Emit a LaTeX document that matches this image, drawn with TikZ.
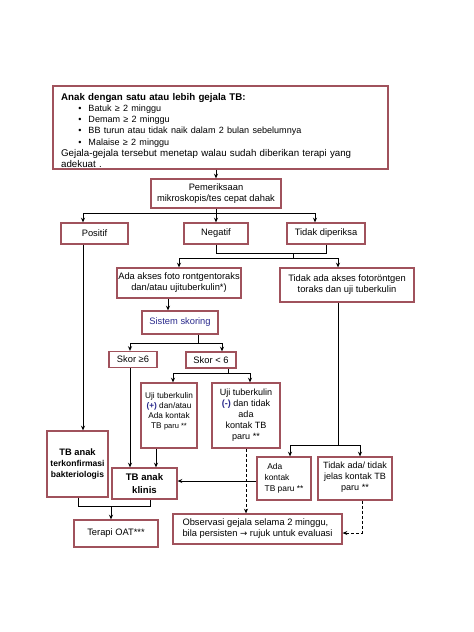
\documentclass[tikz,border=0pt]{standalone}
\usepackage{fontspec}
\setmainfont{Liberation Sans}
\newfontfamily\dejavu{DejaVu Sans}
\usetikzlibrary{arrows.meta,calc}
\definecolor{bordc}{RGB}{160,82,92}
\definecolor{navyc}{RGB}{40,40,140}
\begin{document}
\begin{tikzpicture}[x=0.75pt,y=-0.75pt,
  box/.style={draw=bordc, line width=0.9pt, align=center, inner sep=1pt,
    font=\fontsize{7}{8.3}\selectfont},
  wh/.style 2 args={minimum width=#1*0.75pt, minimum height=#2*0.75pt},
  con/.style={line width=0.7pt, black},
  arr/.style={con, -{Stealth[length=3.5pt,width=3pt]}},
  dsh/.style={dash pattern=on 2.2pt off 1.6pt}]
\path[use as bounding box, fill=white] (0,0) rectangle (474,632);

% top box
\node[box, wh={335}{83}, text width=239pt, inner xsep=6pt, align=left,
  font=\fontsize{7.3}{8.3}\selectfont] (top) at (220.5,127.5)
 {\rule{0pt}{9.8pt}\textbf{Anak dengan satu atau lebih gejala TB:}\\
  {\fontsize{6.8}{8.3}\selectfont
  \hspace*{13pt}\makebox[7.5pt][l]{\textbullet}Batuk ≥ 2 minggu\\
  \hspace*{13pt}\makebox[7.5pt][l]{\textbullet}Demam ≥ 2 minggu\\
  \hspace*{13pt}\makebox[7.5pt][l]{\textbullet}BB turun atau tidak naik dalam 2 bulan sebelumnya\\
  \hspace*{13pt}\makebox[7.5pt][l]{\textbullet}Malaise ≥ 2 minggu}\\
  Gejala-gejala tersebut menetap walau sudah diberikan terapi yang\\
  adekuat .};

\node[box, wh={130}{29}] (pem) at (216,193.5) {Pemeriksaan\\mikroskopis/tes cepat dahak};
\node[box, wh={67}{21}] (pos) at (94.5,233.5) {Positif};
\node[box, wh={64}{21}] (neg) at (216,233.5) {Negatif};
\node[box, wh={78}{21}] (tdk) at (326,233.5) {Tidak diperiksa};
\node[box, wh={118}{30}] (ada) at (179,283) {Ada akses foto rontgentoraks\\dan/atau ujituberkulin*)};
\node[box, wh={134}{34}] (tak) at (347,285) {Tidak ada akses fotoröntgen\\toraks dan uji tuberkulin};
\node[box, wh={76}{23}, text=navyc] (sis) at (180,322.5) {Sistem skoring};
\node[box, wh={48}{16}] (sk6) at (133,359.5) {Skor ≥6};
\node[box, wh={50}{16}] (sk5) at (211,360) {Skor < 6};
\node[box, wh={56}{65}, font=\fontsize{6.2}{7.6}\selectfont] (ujip) at (169,415.5)
  {Uji tuberkulin\\\textcolor{navyc}{\textbf{(+)}} dan/atau\\Ada kontak\\TB {\fontsize{5.6}{7}\selectfont paru **}\\\mbox{}};
\node[box, wh={68}{65}, font=\fontsize{6.8}{8.3}\selectfont] (ujim) at (246,415.5)
  {Uji tuberkulin\\\textcolor{navyc}{\textbf{(-)}} dan tidak\\ada\\kontak TB\\paru **};
\node[box, wh={61}{66}, font=\bfseries\fontsize{6.4}{8}\selectfont] (konf) at (77.5,464)
  {{\fontsize{7}{8}\selectfont TB anak}\\terkonfirmasi\\bakteriologis};
\node[box, wh={65}{31}, font=\bfseries\fontsize{7.2}{9.2}\selectfont] (kli) at (144.5,483.5) {TB anak\\klinis};
\node[box, wh={54}{43}, align=left, font=\fontsize{6.3}{8.3}\selectfont] (kon) at (284,478.5)
  {\hspace*{2pt}Ada\\kontak\\TB paru **};
\node[box, wh={74}{43}, font=\fontsize{6.8}{8.3}\selectfont] (tj) at (355,478.5)
  {Tidak ada/ tidak\\jelas kontak TB\\paru **\\[-5pt]\mbox{}};
\node[box, wh={84}{27}] (ter) at (116,533.5) {Terapi OAT***};
\node[box, wh={169}{30}, align=left] (obs) at (257.5,529)
  {Observasi gejala selama 2 minggu,\\bila persisten {\dejavu\fontsize{6.5}{8}\selectfont →} rujuk untuk evaluasi};

% connectors
\draw[arr] (top.south -| pem.north) -- (pem.north);
\coordinate (j1) at ($(pem.south)+(0,5)$);
\draw[arr] (j1) -| ($(pos.north)+(-11.5,0)$);
\draw[arr] (j1) -| ($(tdk.north)+(-11,0)$);
\draw[arr] (pem.south) -- (neg.north);

\coordinate (j2) at ($(neg.south)+(0,8.5)$);
\draw[con] (neg.south) -- (j2) -- (j2 -| tdk.south) -- (tdk.south);
\coordinate (m1) at ($(j2)+(77,0)$);
\coordinate (m2) at ($(m1)+(0,5.5)$);
\draw[con] (m1) -- (m2);
\draw[arr] (m2) -| (ada.north);
\draw[arr] (m2) -| ($(tak.north)+(-9,0)$);

\draw[arr] ($(ada.south)+(-11,0)$) -- ($(sis.north)+(-12,0)$);

\coordinate (s1) at ($(sis.south)+(18,9)$);
\draw[con] ($(sis.south)+(18,0)$) -- (s1);
\draw[arr] (s1) -| ($(sk6.north)+(-3,0)$);
\draw[arr] (s1) -| ($(sk5.north)+(11,0)$);

\coordinate (u1) at ($(sk5.south)+(17,5)$);
\draw[con] ($(sk5.south)+(17,0)$) -- (u1);
\draw[arr] (u1) -| ($(ujip.north)+(4,0)$);
\draw[arr] (u1) -| ($(ujim.north)+(4,0)$);

\draw[arr] ($(sk6.south)+(-3,0)$) -- ($(kli.north)+(-14.5,0)$);
\draw[arr] ($(ujip.south)+(-13,0)$) -- ($(kli.north)+(11.5,0)$);
\draw[arr] ($(pos.south)+(-11.5,0)$) -- ($(konf.north)+(5.5,0)$);

\coordinate (t1) at ($(konf.south)+(0.5,9)$);
\draw[con] ($(konf.south)+(0.5,0)$) -- (t1) -| ($(kli.south)+(5.5,0)$);
\coordinate (t2) at ($(ter.north)+(-5,0)$);
\draw[arr] (t1 -| t2) -- (t2);

\draw[arr] ($(kon.west |- kli.east)+(0,-2.5)$) -- ($(kli.east)+(0,-2.5)$);

\coordinate (v1) at ($(tak.south)+(-9,143)$);
\draw[con] ($(tak.south)+(-9,0)$) -- (v1);
\draw[arr] (v1) -| ($(kon.north)+(6,0)$);
\draw[arr] (v1) -| ($(tj.north)+(5,0)$);

\draw[arr, dsh] (ujim.south) -- (ujim.south |- obs.north);
\draw[arr, dsh] ($(tj.south)+(7,0)$) |- ($(obs.east)+(0,4)$);
\end{tikzpicture}
\end{document}
